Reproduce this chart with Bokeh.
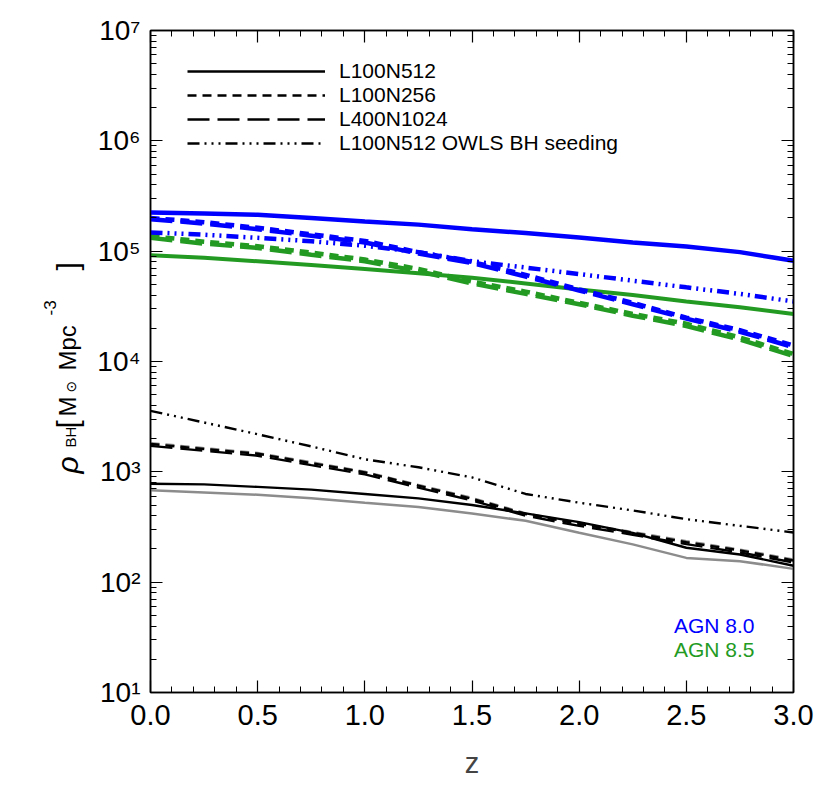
import math
from bokeh.plotting import figure
from bokeh.layouts import row
from bokeh.core.properties import value
from bokeh.models import (Range1d, LinearAxis, LogAxis, Label, Legend, LegendItem,
                          CustomJSTickFormatter, FixedTicker)
from bokeh.embed import file_html
from bokeh.resources import INLINE

# ---------------- data ----------------
z = [0.0, 0.25, 0.5, 0.75, 1.0, 1.25, 1.5, 1.75, 2.0, 2.25, 2.5, 2.75, 3.0]

# AGN 8.0 (blue)
agn80_L100N512 = [2.24e5, 2.19e5, 2.14e5, 2.00e5, 1.86e5, 1.74e5, 1.58e5, 1.46e5, 1.33e5, 1.20e5, 1.10e5, 9.8e4, 8.2e4]
agn80_L100N256 = [2.00e5, 1.83e5, 1.63e5, 1.42e5, 1.24e5, 9.8e4, 8.0e4, 6.1e4, 4.5e4, 3.4e4, 2.5e4, 1.92e4, 1.40e4]
agn80_L400N1024 = [1.95e5, 1.78e5, 1.58e5, 1.38e5, 1.20e5, 9.5e4, 7.8e4, 5.9e4, 4.4e4, 3.3e4, 2.45e4, 1.86e4, 1.35e4]
agn80_OWLS = [1.48e5, 1.41e5, 1.32e5, 1.23e5, 1.12e5, 9.8e4, 8.1e4, 7.1e4, 6.2e4, 5.4e4, 4.7e4, 4.1e4, 3.5e4]

# AGN 8.5 (green)
agn85_L100N512 = [9.2e4, 8.7e4, 8.1e4, 7.5e4, 6.9e4, 6.3e4, 5.75e4, 5.1e4, 4.5e4, 4.0e4, 3.5e4, 3.1e4, 2.7e4]
agn85_L100N256 = [1.37e5, 1.22e5, 1.11e5, 9.7e4, 8.4e4, 6.9e4, 5.3e4, 4.3e4, 3.4e4, 2.7e4, 2.2e4, 1.65e4, 1.17e4]
agn85_L400N1024 = [1.32e5, 1.17e5, 1.07e5, 9.3e4, 8.1e4, 6.6e4, 5.1e4, 4.1e4, 3.3e4, 2.6e4, 2.1e4, 1.58e4, 1.12e4]

# black / grey models
blk_L100N512 = [7.8e2, 7.7e2, 7.3e2, 6.9e2, 6.3e2, 5.75e2, 5.0e2, 4.2e2, 3.5e2, 2.8e2, 2.05e2, 1.78e2, 1.41e2]
blk_L100N256 = [1.79e3, 1.61e3, 1.46e3, 1.20e3, 9.9e2, 7.5e2, 5.7e2, 4.15e2, 3.37e2, 2.8e2, 2.3e2, 1.94e2, 1.57e2]
blk_L400N1024 = [1.72e3, 1.55e3, 1.40e3, 1.15e3, 9.5e2, 7.2e2, 5.5e2, 4.0e2, 3.24e2, 2.69e2, 2.21e2, 1.86e2, 1.51e2]
blk_OWLS = [3.57e3, 2.80e3, 2.19e3, 1.70e3, 1.30e3, 1.10e3, 8.9e2, 6.3e2, 5.25e2, 4.47e2, 3.72e2, 3.24e2, 2.82e2]
gry_L100N512 = [6.8e2, 6.5e2, 6.2e2, 5.75e2, 5.25e2, 4.8e2, 4.2e2, 3.6e2, 2.8e2, 2.2e2, 1.66e2, 1.55e2, 1.32e2]
gry_L100N256 = [1.82e3, 1.64e3, 1.48e3, 1.22e3, 1.00e3, 7.6e2, 5.8e2, 4.2e2, 3.4e2, 2.85e2, 2.35e2, 1.97e2, 1.60e2]

legend_labels = ["L100N512", "L100N256", "L400N1024", "L100N512 OWLS BH seeding"]
model_labels = ["AGN 8.0", "AGN 8.5"]
x_ticks = [0.0, 0.5, 1.0, 1.5, 2.0, 2.5, 3.0]
y_ticks = [1e1, 1e2, 1e3, 1e4, 1e5, 1e6, 1e7]

# ---------------- styling ----------------
FONT = "Liberation Sans"
BLUE = "#0000ff"
GREEN = "#239b23"
GREY = "#8c8c8c"
SHORT = "9 6"
LONG = "22 8"
DDD = "12 5 2 5 2 5 2 5"

LW = 90                       # width of the y-label strip
W, H = 822, 804
FL, FR, FT, FB = 150, 29, 30, 112  # page borders of the frame
X0, X1 = 0.0, 3.0
LY0, LY1 = 1, 7

p = figure(width=W - LW, height=H, y_axis_type="log",
           x_range=Range1d(X0, X1), y_range=Range1d(10 ** LY0, 10 ** LY1),
           output_backend="svg", toolbar_location=None,
           min_border_left=FL - LW, min_border_right=FR, min_border_top=FT, min_border_bottom=FB)
p.background_fill_color = "white"
p.border_fill_color = "white"
p.grid.visible = False
p.outline_line_color = "black"
p.outline_line_width = 1.5

fw = W - FL - FR
fh = H - FT - FB


def dx(px):
    return X0 + (px - FL) * (X1 - X0) / fw


def dy(py):
    return 10 ** (LY1 - (py - FT) * (LY1 - LY0) / fh)


# ---------------- axes ----------------
minor_y = [m * 10 ** e for e in range(1, 7) for m in range(2, 10)]
minor_x = [i / 10 for i in range(0, 31)]
xt = FixedTicker(ticks=x_ticks, minor_ticks=minor_x)
yt = FixedTicker(ticks=y_ticks, minor_ticks=minor_y)

yfmt = CustomJSTickFormatter(code="""
const sup = {'0':'\u2070','1':'\u00b9','2':'\u00b2','3':'\u00b3','4':'\u2074','5':'\u2075','6':'\u2076','7':'\u2077','8':'\u2078','9':'\u2079','-':'\u207b'};
const e = Math.round(Math.log10(tick));
return '10' + String(e).split('').map(c => sup[c]).join('');
""")
xfmt = CustomJSTickFormatter(code="return tick.toFixed(1);")
blank = CustomJSTickFormatter(code="return '';")


def style_axis(ax, major_len, minor_len):
    ax.axis_line_color = "black"
    ax.axis_line_width = 1.5
    ax.major_tick_in = major_len
    ax.major_tick_out = 0
    ax.minor_tick_in = minor_len
    ax.minor_tick_out = 0
    ax.major_tick_line_color = "black"
    ax.minor_tick_line_color = "black"
    ax.major_tick_line_width = 1.2
    ax.minor_tick_line_width = 1.0
    ax.major_label_text_font = FONT
    ax.major_label_text_color = "black"


xa = p.xaxis[0]
xa.ticker = xt
xa.formatter = xfmt
style_axis(xa, 12, 6)
xa.major_label_text_font_size = "29px"
xa.major_label_standoff = 12
xa.axis_label = "z"
xa.axis_label_text_font = FONT
xa.axis_label_text_font_style = "normal"
xa.axis_label_text_font_size = "29px"
xa.axis_label_standoff = 19

ya = p.yaxis[0]
ya.ticker = yt
ya.formatter = yfmt
style_axis(ya, 12, 6)
ya.major_label_text_font_size = "28px"
ya.major_label_standoff = 10

top = LinearAxis(ticker=xt, formatter=blank)
style_axis(top, 12, 6)
top.major_label_text_font_size = "1px"
top.major_label_standoff = 0
p.add_layout(top, "above")

right = LogAxis(ticker=yt, formatter=blank)
style_axis(right, 12, 6)
right.major_label_text_font_size = "1px"
right.major_label_standoff = 0
p.add_layout(right, "right")

# ---------------- lines ----------------
p.line(z, gry_L100N512, line_color=GREY, line_width=2.5)
p.line(z, gry_L100N256, line_color=GREY, line_width=2.5, line_dash=SHORT)
r_solid = p.line(z, blk_L100N512, line_color="black", line_width=2.4)
r_short = p.line(z, blk_L100N256, line_color="black", line_width=2.4, line_dash=SHORT)
r_long = p.line(z, blk_L400N1024, line_color="black", line_width=2.4, line_dash=LONG)
r_ddd = p.line(z, blk_OWLS, line_color="black", line_width=2.4, line_dash=DDD)

p.line(z, agn85_L100N512, line_color=GREEN, line_width=4)
p.line(z, agn85_L100N256, line_color=GREEN, line_width=4.5, line_dash=SHORT)
p.line(z, agn85_L400N1024, line_color=GREEN, line_width=4.5, line_dash=LONG)

p.line(z, agn80_L100N512, line_color=BLUE, line_width=4.5)
p.line(z, agn80_L100N256, line_color=BLUE, line_width=4.5, line_dash=SHORT)
p.line(z, agn80_L400N1024, line_color=BLUE, line_width=4.5, line_dash=LONG)
p.line(z, agn80_OWLS, line_color=BLUE, line_width=4.5, line_dash=DDD)

# ---------------- legend ----------------
legend = Legend(items=[LegendItem(label=legend_labels[0], renderers=[r_solid]),
                       LegendItem(label=legend_labels[1], renderers=[r_short]),
                       LegendItem(label=legend_labels[2], renderers=[r_long]),
                       LegendItem(label=legend_labels[3], renderers=[r_ddd])],
                location=(37, 537), glyph_width=138, glyph_height=20, label_height=20,
                spacing=0, label_standoff=14, padding=0, margin=0,
                border_line_alpha=0, background_fill_alpha=0,
                label_text_font=FONT, label_text_font_size="21px",
                label_text_color="black")
p.add_layout(legend)

# ---------------- model labels ----------------
p.add_layout(Label(x=dx(754), y=dy(625), text=model_labels[0], text_color=BLUE,
                   text_align="right", text_baseline="middle",
                   text_font=FONT, text_font_size="21px"))
p.add_layout(Label(x=dx(754), y=dy(649), text=model_labels[1], text_color=GREEN,
                   text_align="right", text_baseline="middle",
                   text_font=FONT, text_font_size="21px"))

# ---------------- y-axis label strip (rotated pieces) ----------------
# the strip's frame is aligned with the main frame (page y FT .. H-FB);
# its data coordinates are page pixels (y measured upward from the page bottom)
q = figure(width=LW, height=H, x_range=Range1d(0, LW), y_range=Range1d(FB, H - FT),
           output_backend="svg", toolbar_location=None,
           x_axis_location=None, y_axis_location=None,
           min_border_left=0, min_border_right=0, min_border_top=FT, min_border_bottom=FB)
q.grid.visible = False
q.outline_line_color = None
q.background_fill_color = "white"
q.border_fill_color = "white"

# (text, baseline x on page, start y on page, size, style, font)
pieces = [
    ("\u03c1", 67, 473, "30px", "italic", FONT),
    ("BH", 70, 447, "15px", "normal", FONT),
    ("[", 67, 428, "30px", "normal", FONT),
    ("M", 67, 416, "24px", "normal", FONT),
    ("\u2299", 70, 392, "14px", "normal", "DejaVu Sans"),
    ("Mpc", 67, 370, "24px", "normal", FONT),
    ("-3", 49, 315, "17px", "normal", FONT),
    ("]", 67, 270, "30px", "normal", FONT),
]
for txt, bx, sy, fs, st, fnt in pieces:
    q.text(x=[bx], y=[H - sy], text=[txt], angle=math.pi / 2,
           text_align="left", text_baseline="alphabetic",
           text_font=value(fnt), text_font_size=fs, text_font_style=st,
           text_color="black")

layout = row(q, p, spacing=0)
open("out.html", "w").write(file_html(layout, INLINE))
